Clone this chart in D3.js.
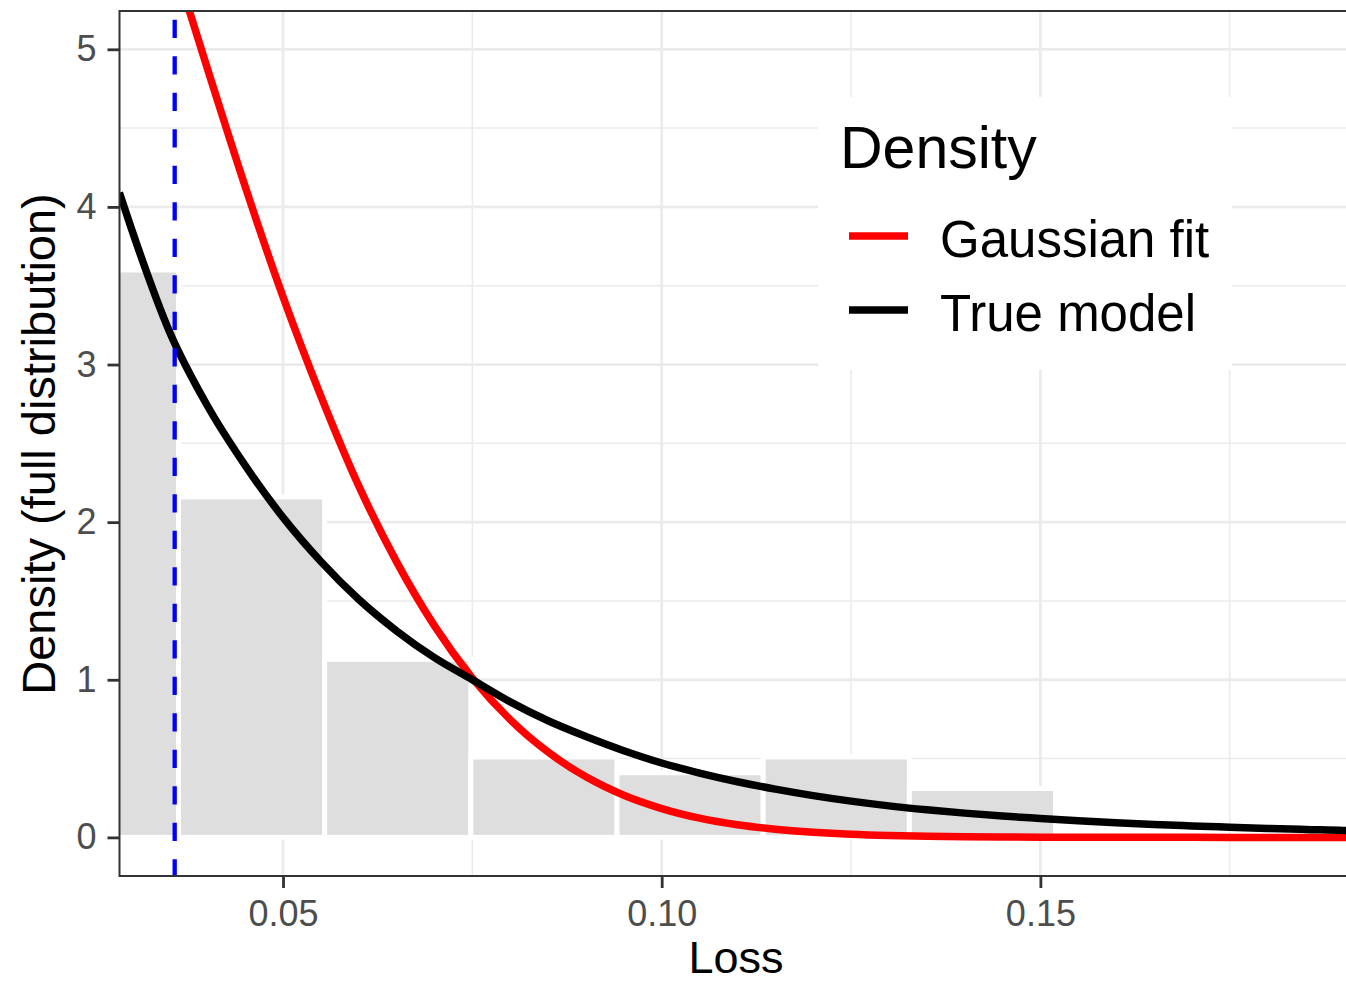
<!DOCTYPE html>
<html>
<head>
<meta charset="utf-8">
<script src="https://cdn.jsdelivr.net/npm/d3@7"></script>
<style>
  html, body { margin: 0; padding: 0; background: #fff; overflow: hidden; }
  svg { display: block; font-family: "Liberation Sans", Arial, Helvetica, sans-serif; }
</style>
</head>
<body>
<svg id="chart" width="1346" height="982"></svg>
<script>
// ---- Data ----------------------------------------------------------------
// Histogram of observed losses (density scale), bin edges and heights
const binEdges   = [0.0169, 0.0362, 0.0555, 0.0748, 0.0941, 0.1134, 0.1327, 0.1520];
const binDensity = [3.60, 2.16, 1.13, 0.51, 0.41, 0.51, 0.31];

// Loss values at which the two density curves are evaluated
const lossGrid = [0.0284, 0.030, 0.035, 0.040, 0.045, 0.050, 0.055, 0.060, 0.065, 0.070,
                  0.075, 0.080, 0.085, 0.090, 0.095, 0.100, 0.105, 0.110, 0.115, 0.120,
                  0.125, 0.130, 0.135, 0.140, 0.145, 0.150, 0.155, 0.160, 0.165, 0.170,
                  0.175, 0.180, 0.185, 0.190, 0.1911];
// Gaussian fit density
const gaussianFit = [6.66, 6.42, 5.65, 4.88, 4.13, 3.43, 2.80, 2.23, 1.748, 1.342,
                     1.011, 0.747, 0.541, 0.384, 0.267, 0.183, 0.122, 0.080, 0.052, 0.033,
                     0.020, 0.012, 0.0073, 0.0042, 0.0024, 0.0013, 0.0007, 0.0004, 0.0002, 0.0001,
                     0.00005, 0.00003, 0.00002, 0.00001, 0.00001];
// True model density
const trueModel = [4.09, 3.86, 3.21, 2.74, 2.36, 2.03, 1.75, 1.51, 1.31, 1.14,
                   1.00, 0.86, 0.74, 0.64, 0.55, 0.472, 0.408, 0.353, 0.306, 0.265,
                   0.230, 0.200, 0.175, 0.154, 0.135, 0.120, 0.106, 0.093, 0.082, 0.073,
                   0.065, 0.057, 0.050, 0.044, 0.042];

// Threshold marked by the dashed vertical line
const thresholdLoss = 0.0357;

// Axis ticks and labels
const xMajorTicks = [0.05, 0.10, 0.15];
const xTickLabels = ["0.05", "0.10", "0.15"];
const xMinorTicks = [0.075, 0.125, 0.175];
const yMajorTicks = [0, 1, 2, 3, 4, 5];
const yTickLabels = ["0", "1", "2", "3", "4", "5"];
const yMinorTicks = [0.5, 1.5, 2.5, 3.5, 4.5];

const seriesNames  = ["Gaussian fit", "True model"];
const seriesColors = ["#ff0000", "#000000"];

// ---- Layout --------------------------------------------------------------
const svg = d3.select("#chart");
const P = { left: 119.5, top: 11, right: 1351, bottom: 876 };

const x = d3.scaleLinear().domain([0.028413, 0.19101]).range([P.left, P.right]);
const y = d3.scaleLinear().domain([-0.245, 5.243]).range([P.bottom, P.top]);

svg.append("defs").append("clipPath").attr("id", "panel-clip")
  .append("rect")
  .attr("x", P.left).attr("y", P.top)
  .attr("width", P.right - P.left).attr("height", P.bottom - P.top);

const panel = svg.append("g").attr("clip-path", "url(#panel-clip)");

// Grid: minor then major
const grid = panel.append("g");
grid.selectAll(".ymin").data(yMinorTicks).join("line")
  .attr("x1", P.left).attr("x2", P.right)
  .attr("y1", d => y(d)).attr("y2", d => y(d))
  .attr("stroke", "#ebebeb").attr("stroke-width", 1.5);
grid.selectAll(".xmin").data(xMinorTicks).join("line")
  .attr("y1", P.top).attr("y2", P.bottom)
  .attr("x1", d => x(d)).attr("x2", d => x(d))
  .attr("stroke", "#ebebeb").attr("stroke-width", 1.5);
grid.selectAll(".ymaj").data(yMajorTicks).join("line")
  .attr("x1", P.left).attr("x2", P.right)
  .attr("y1", d => y(d)).attr("y2", d => y(d))
  .attr("stroke", "#ebebeb").attr("stroke-width", 2.8);
grid.selectAll(".xmaj").data(xMajorTicks).join("line")
  .attr("y1", P.top).attr("y2", P.bottom)
  .attr("x1", d => x(d)).attr("x2", d => x(d))
  .attr("stroke", "#ebebeb").attr("stroke-width", 2.8);

// Histogram bars
const bins = binDensity.map((v, i) => ({ x0: binEdges[i], x1: binEdges[i + 1], v }));
panel.append("g").selectAll("rect").data(bins).join("rect")
  .attr("x", d => x(d.x0))
  .attr("width", d => x(d.x1) - x(d.x0))
  .attr("y", d => y(d.v))
  .attr("height", d => y(0) - y(d.v))
  .attr("fill", "#dedede")
  .attr("stroke", "#ffffff")
  .attr("stroke-width", 5);

// Density curves
const line = d3.line()
  .x(d => x(d[0]))
  .y(d => y(d[1]))
  .curve(d3.curveMonotoneX);

const curves = [
  { name: seriesNames[0], color: seriesColors[0], values: gaussianFit },
  { name: seriesNames[1], color: seriesColors[1], values: trueModel }
];
panel.append("g").selectAll("path").data(curves).join("path")
  .attr("d", c => line(lossGrid.map((l, i) => [l, c.values[i]])))
  .attr("fill", "none")
  .attr("stroke", c => c.color)
  .attr("stroke-width", 7.5)
  .attr("stroke-linejoin", "round");

// Dashed threshold line, drawn upward from the bottom of the panel
panel.append("line")
  .attr("x1", x(thresholdLoss)).attr("x2", x(thresholdLoss))
  .attr("y1", P.bottom + 1.5).attr("y2", P.top)
  .attr("stroke", "#0000ff")
  .attr("stroke-width", 4.3)
  .attr("stroke-dasharray", "18.25,18.25");

// Legend (inside the panel, white background)
const legend = svg.append("g");
legend.append("rect")
  .attr("x", 818).attr("y", 97).attr("width", 414).attr("height", 273)
  .attr("fill", "#ffffff");
legend.append("text")
  .attr("x", 840).attr("y", 168)
  .attr("font-size", 59).attr("fill", "#000")
  .text("Density");
const keyRows = [236, 310];
curves.forEach((c, i) => {
  legend.append("line")
    .attr("x1", 849).attr("x2", 908)
    .attr("y1", keyRows[i]).attr("y2", keyRows[i])
    .attr("stroke", c.color).attr("stroke-width", 7.5);
  legend.append("text")
    .attr("x", 940).attr("y", keyRows[i] + 20.5)
    .attr("font-size", 51).attr("fill", "#000")
    .text(c.name);
});

// Panel border
svg.append("rect")
  .attr("x", P.left).attr("y", P.top)
  .attr("width", P.right - P.left).attr("height", P.bottom - P.top)
  .attr("fill", "none").attr("stroke", "#333333").attr("stroke-width", 2);

// Axes
const xAxis = d3.axisBottom(x)
  .tickValues(xMajorTicks)
  .tickFormat((d, i) => xTickLabels[i])
  .tickSize(12).tickPadding(12);
const yAxis = d3.axisLeft(y)
  .tickValues(yMajorTicks)
  .tickFormat((d, i) => yTickLabels[i])
  .tickSize(12).tickPadding(11);

function styleAxis(g) {
  g.select(".domain").remove();
  g.selectAll(".tick line").attr("stroke", "#333333").attr("stroke-width", 2.8);
  g.selectAll(".tick text")
    .attr("fill", "#4d4d4d")
    .attr("font-size", 36)
    .attr("font-family", "\"Liberation Sans\", Arial, Helvetica, sans-serif");
}
svg.append("g").attr("transform", `translate(0,${P.bottom})`).call(xAxis).call(styleAxis);
svg.append("g").attr("transform", `translate(${P.left},0)`).call(yAxis).call(styleAxis);

// Axis titles
svg.append("text")
  .attr("x", 736).attr("y", 973)
  .attr("text-anchor", "middle")
  .attr("font-size", 45).attr("fill", "#000")
  .text("Loss");
svg.append("text")
  .attr("transform", "translate(55,444) rotate(-90)")
  .attr("text-anchor", "middle")
  .attr("font-size", 47).attr("fill", "#000")
  .text("Density (full distribution)");
</script>
</body>
</html>
